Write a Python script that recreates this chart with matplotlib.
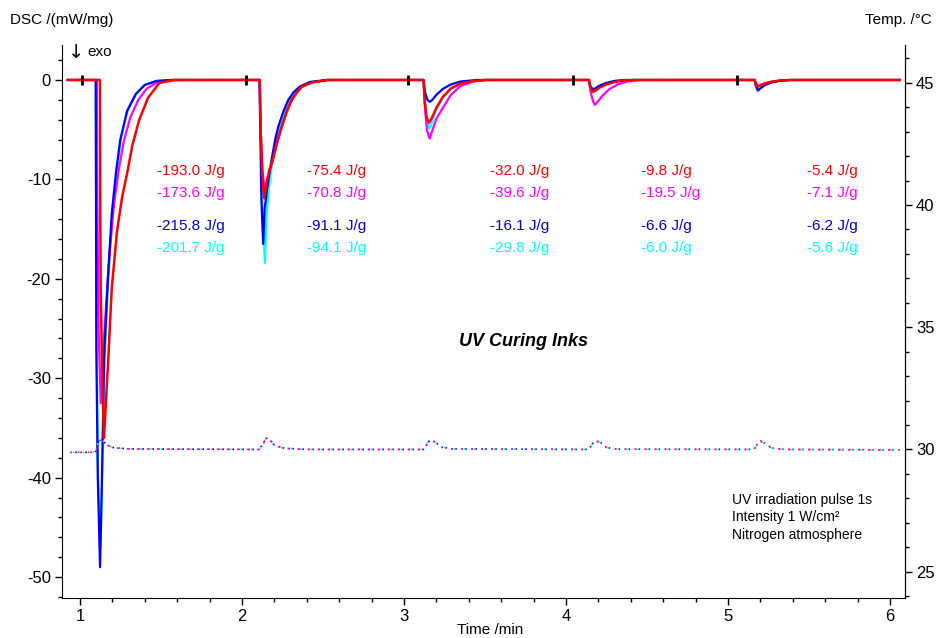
import matplotlib
matplotlib.use("Agg")
import matplotlib.pyplot as plt

plt.rcParams["font.family"] = ["Liberation Sans", "DejaVu Sans"]
plt.rcParams["axes.unicode_minus"] = False

# DSC signals (mW/mg) for the four inks, five 1 s UV pulses
blue_t = [0.925, 1.097, 1.099, 1.101, 1.110, 1.124, 1.136, 1.149, 1.172, 1.196, 1.223, 1.249, 1.291, 1.345, 1.40, 1.47, 1.56,
          2.108, 2.113, 2.120, 2.131, 2.140, 2.155, 2.170, 2.183, 2.205, 2.224, 2.255, 2.286, 2.32, 2.358, 2.42, 2.52,
          3.121, 3.130, 3.145, 3.160, 3.175, 3.20, 3.24, 3.29, 3.35, 3.45,
          4.142, 4.150, 4.165, 4.18, 4.21, 4.25, 4.30, 4.36,
          5.165, 5.172, 5.185, 5.20, 5.23, 5.27, 5.32, 5.38, 6.06]
blue_dsc = [0, 0, -12, -27, -40, -49, -40, -28, -20, -13.5, -9.2, -6.0, -3.1, -1.4, -0.5, -0.1, 0,
            0, -5, -12, -16.5, -13, -11, -9.3, -8, -6, -4.7, -3.2, -2.0, -1.2, -0.65, -0.2, 0,
            0, -1.2, -2.0, -2.2, -2.0, -1.5, -0.9, -0.45, -0.15, 0,
            0, -0.6, -0.93, -0.85, -0.55, -0.3, -0.1, 0,
            0, -0.6, -1.07, -0.85, -0.5, -0.25, -0.08, 0, 0]

cyan_t = [0.925, 1.099, 1.102, 1.112, 1.127, 1.139, 1.152, 1.175, 1.199, 1.226, 1.252, 1.294, 1.348, 1.40, 1.47, 1.56,
          2.110, 2.116, 2.125, 2.136, 2.142, 2.150, 2.165, 2.19, 2.215, 2.235, 2.265, 2.295, 2.33, 2.37, 2.43, 2.53,
          3.121, 3.128, 3.140, 3.157, 3.172, 3.20, 3.24, 3.29, 3.35, 3.43, 3.50,
          4.142, 4.150, 4.166, 4.18, 4.21, 4.25, 4.30, 4.37,
          5.165, 5.172, 5.186, 5.20, 5.23, 5.27, 5.32, 5.38, 6.06]
cyan_dsc = [0, 0, -25, -40, -47, -38, -28, -20, -13.6, -9.3, -6.0, -3.1, -1.4, -0.5, -0.1, 0,
            0, -5, -12, -16.5, -18.4, -14, -11, -8, -6, -4.7, -3.2, -2.0, -1.2, -0.65, -0.2, 0,
            0, -2, -4.2, -4.9, -4.3, -3.0, -1.8, -0.9, -0.35, -0.1, 0,
            0, -0.6, -1.0, -0.9, -0.6, -0.3, -0.1, 0,
            0, -0.5, -0.85, -0.7, -0.42, -0.2, -0.07, 0, 0]

magenta_t = [0.925, 1.104, 1.107, 1.115, 1.128, 1.140, 1.160, 1.185, 1.21, 1.24, 1.27, 1.31, 1.36, 1.41, 1.47, 1.54, 1.62,
             2.110, 2.116, 2.127, 2.140, 2.152, 2.17, 2.19, 2.22, 2.245, 2.275, 2.306, 2.34, 2.37, 2.43, 2.53,
             3.121, 3.128, 3.142, 3.158, 3.175, 3.20, 3.24, 3.29, 3.35, 3.43, 3.52,
             4.142, 4.152, 4.168, 4.180, 4.20, 4.23, 4.27, 4.32, 4.38, 4.46,
             5.165, 5.172, 5.185, 5.20, 5.23, 5.27, 5.32, 5.40, 6.06]
magenta_dsc = [0, 0, -12, -25, -32.5, -28, -23, -17, -12.5, -9, -6.2, -3.8, -2.0, -0.9, -0.3, -0.05, 0,
               0, -5, -9, -11.2, -10.3, -9.2, -8.1, -6.2, -4.8, -3.3, -2.1, -1.25, -0.7, -0.25, 0,
               0, -2.5, -5.0, -5.9, -5.1, -3.9, -2.8, -1.5, -0.6, -0.15, 0,
               0, -1.2, -2.2, -2.5, -2.1, -1.5, -0.9, -0.45, -0.15, 0,
               0, -0.3, -0.55, -0.5, -0.33, -0.17, -0.06, 0, 0]

red_t = [0.925, 1.123, 1.125, 1.128, 1.138, 1.148, 1.155, 1.175, 1.196, 1.228, 1.26, 1.291, 1.323, 1.366, 1.42, 1.49, 1.58,
         2.110, 2.115, 2.125, 2.138, 2.150, 2.17, 2.19, 2.22, 2.245, 2.275, 2.306, 2.34, 2.37, 2.43, 2.53,
         3.121, 3.128, 3.140, 3.155, 3.170, 3.20, 3.24, 3.29, 3.35, 3.43, 3.50,
         4.142, 4.150, 4.165, 4.18, 4.21, 4.25, 4.30, 4.36, 4.42,
         5.165, 5.172, 5.182, 5.20, 5.23, 5.27, 5.32, 5.40, 6.06]
red_dsc = [0, 0, -12, -21, -30, -36, -34, -28, -21, -15.3, -11.8, -9.4, -6.6, -4.0, -1.8, -0.3, 0,
           0, -5, -9.5, -11.9, -10.5, -9, -8, -6, -4.7, -3.2, -2.0, -1.2, -0.67, -0.25, 0,
           0, -2, -3.8, -4.3, -3.9, -2.8, -1.7, -0.85, -0.35, -0.1, 0,
           0, -0.7, -1.2, -1.1, -0.75, -0.45, -0.2, -0.05, 0,
           0, -0.4, -0.67, -0.55, -0.35, -0.18, -0.06, 0, 0]

# sample temperature (°C)
temp_t = [0.94, 1.09, 1.10, 1.115, 1.135, 1.16, 1.20, 1.30, 2.11, 2.13, 2.15, 2.17, 2.20, 2.26, 2.40,
          3.12, 3.14, 3.16, 3.19, 3.23, 3.30, 4.14, 4.16, 4.18, 4.21, 4.25, 4.32,
          5.16, 5.18, 5.20, 5.23, 5.27, 5.35, 6.06]
temp_red = [29.88, 29.88, 29.95, 30.40, 30.38, 30.22, 30.08, 30.02, 30.0, 30.25, 30.45, 30.42, 30.18, 30.05, 30.0,
            30.0, 30.2, 30.38, 30.32, 30.1, 30.02, 30.0, 30.2, 30.36, 30.3, 30.08, 30.01,
            30.0, 30.2, 30.35, 30.25, 30.06, 30.0, 29.98]
temp_magenta = [29.88, 29.88, 29.95, 30.36, 30.36, 30.20, 30.07, 30.02, 30.0, 30.22, 30.43, 30.40, 30.16, 30.04, 30.0,
                30.0, 30.18, 30.36, 30.30, 30.09, 30.02, 30.0, 30.18, 30.34, 30.28, 30.07, 30.01,
                30.0, 30.18, 30.33, 30.23, 30.05, 30.0, 29.98]
temp_blue = [29.88, 29.88, 29.95, 30.42, 30.40, 30.22, 30.08, 30.02, 30.0, 30.26, 30.46, 30.42, 30.18, 30.05, 30.0,
             30.0, 30.2, 30.38, 30.32, 30.1, 30.02, 30.0, 30.2, 30.36, 30.3, 30.08, 30.01,
             30.0, 30.2, 30.35, 30.25, 30.06, 30.0, 29.98]
temp_cyan = [29.88, 29.88, 29.95, 30.40, 30.40, 30.22, 30.08, 30.02, 30.0, 30.24, 30.45, 30.42, 30.17, 30.05, 30.0,
             30.0, 30.19, 30.37, 30.31, 30.1, 30.02, 30.0, 30.19, 30.35, 30.29, 30.08, 30.01,
             30.0, 30.19, 30.34, 30.24, 30.06, 30.0, 29.98]

# pulse start markers on the baseline
marker_t = [1.01, 2.025, 3.027, 4.041, 5.054]

# integrated peak enthalpies per pulse
red_labels = ["-193.0 J/g", "-75.4 J/g", "-32.0 J/g", "-9.8 J/g", "-5.4 J/g"]
magenta_labels = ["-173.6 J/g", "-70.8 J/g", "-39.6 J/g", "-19.5 J/g", "-7.1 J/g"]
blue_labels = ["-215.8 J/g", "-91.1 J/g", "-16.1 J/g", "-6.6 J/g", "-6.2 J/g"]
cyan_labels = ["-201.7 J/g", "-94.1 J/g", "-29.8 J/g", "-6.0 J/g", "-5.6 J/g"]

RED = "#ff0000"
MAGENTA = "#ff00ff"
BLUE = "#0000ff"
CYAN = "#00ffff"

fig = plt.figure(figsize=(9.42, 6.38), dpi=100)
ax = fig.add_axes([0.0658, 0.0627, 0.8949, 0.8668])
ax2 = ax.twinx()

# temperature on the right axis, dotted, staggered so every colour shows
for i, (vals, c) in enumerate([(temp_red, RED), (temp_magenta, MAGENTA),
                               (temp_blue, BLUE), (temp_cyan, CYAN)]):
    ax2.plot(temp_t, vals, color=c, lw=1.2, linestyle=(i * 1.5, (1, 5)))

ax.plot(cyan_t, cyan_dsc, color=CYAN, lw=1.6, zorder=3)
ax.plot(magenta_t, magenta_dsc, color=MAGENTA, lw=1.6, zorder=3)
ax.plot(blue_t, blue_dsc, color=BLUE, lw=1.6, zorder=4)
ax.plot(red_t, red_dsc, color=RED, lw=1.8, zorder=5)
ax.plot(marker_t, [0] * len(marker_t), linestyle="none", marker="|",
        ms=7, mew=2, color="black", zorder=6)

# enthalpy labels
col_t = [1.475, 2.40, 3.53, 4.463, 5.488]
row_y = {"red": -9.15, "magenta": -11.4, "blue": -14.7, "cyan": -16.9}
for labels, key, c in [(red_labels, "red", RED), (magenta_labels, "magenta", MAGENTA),
                       (blue_labels, "blue", "#0000e0"), (cyan_labels, "cyan", CYAN)]:
    for x, s in zip(col_t, labels):
        ax.text(x, row_y[key], s, color=c, fontsize=11, ha="left", va="center")

ax.text(3.735, -26.3, "UV Curing Inks", fontsize=13, fontweight="bold",
        fontstyle="italic", ha="center", va="center")
ax.text(5.025, -44.0, "UV irradiation pulse 1s\nIntensity 1 W/cm²\nNitrogen atmosphere",
        fontsize=10, ha="left", va="center", linespacing=1.3)

ax.set_xlim(0.889, 6.093)
ax.set_ylim(-52.1, 3.52)
ax2.set_ylim(23.92, 46.55)

ax.set_xticks([1, 2, 3, 4, 5, 6])
ax.set_xticks([x / 5 for x in range(5, 31)], minor=True)
ax.set_yticks([0, -10, -20, -30, -40, -50])
ax.set_yticks(list(range(-52, 3, 2)), minor=True)
ax2.set_yticks([25, 30, 35, 40, 45])
ax2.set_yticks(list(range(24, 47)), minor=True)

for a in (ax, ax2):
    a.spines["top"].set_visible(False)
    a.tick_params(which="major", direction="out", length=5, width=1, labelsize=12, pad=3)
    a.tick_params(which="minor", direction="out", length=3, width=1)
ax2.spines["left"].set_visible(False)
ax2.spines["bottom"].set_visible(False)

fig.text(10 / 942, 1 - 20 / 638, "DSC /(mW/mg)", fontsize=11, ha="left", va="center")
fig.text(932 / 942, 1 - 20 / 638, "Temp. /°C", fontsize=11, ha="right", va="center")
fig.text(490 / 942, 1 - 630 / 638, "Time /min", fontsize=11, ha="center", va="center")
fig.text(68 / 942, 1 - 52 / 638, "↓", fontsize=14, ha="left", va="center",
         family=["DejaVu Sans"])
fig.text(87 / 942, 1 - 52 / 638, "exo", fontsize=11, ha="left", va="center")

fig.savefig("out.png", dpi=100)
